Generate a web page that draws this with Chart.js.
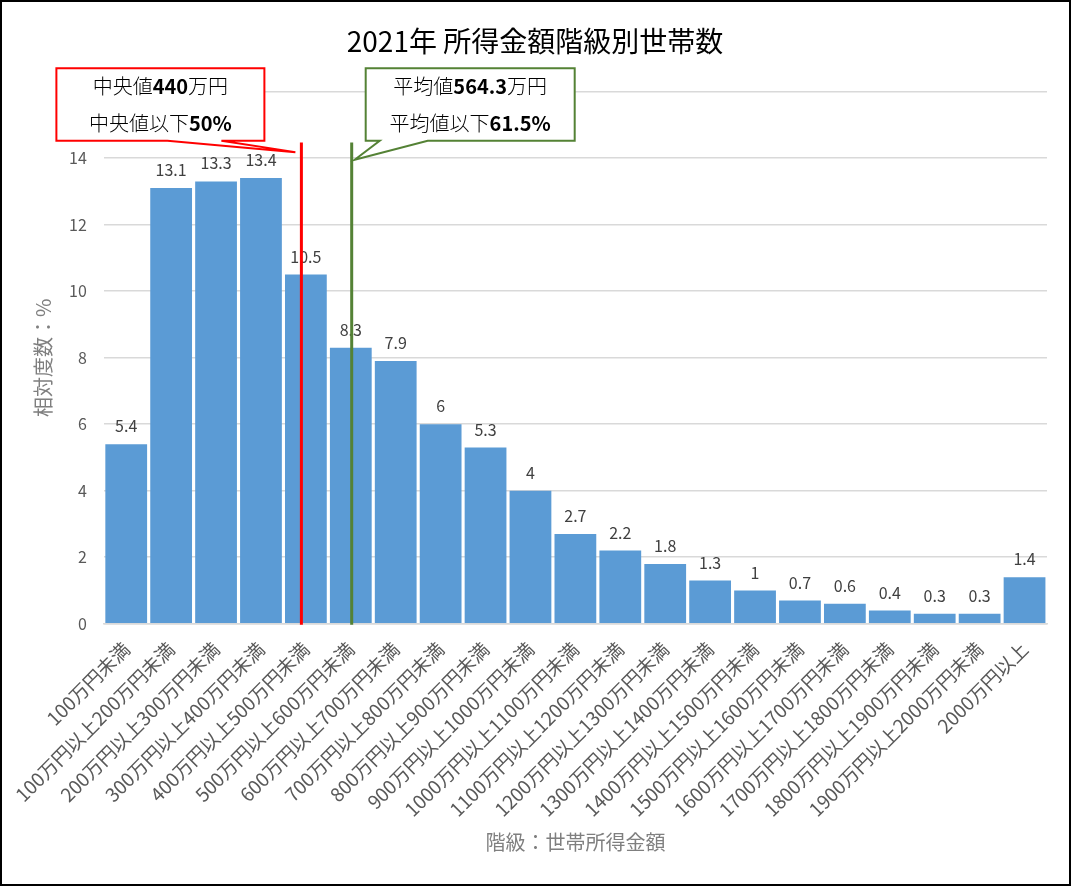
<!DOCTYPE html>
<html>
<head>
<meta charset="utf-8">
<script src="https://cdn.jsdelivr.net/npm/chart.js@4.4.1/dist/chart.umd.min.js"></script>
<style>
html,body{margin:0;padding:0;background:#fff;}
canvas{display:block;}
</style>
</head>
<body>
<canvas id="c" width="1071" height="886"></canvas>
<script>
// ---- data ----
const chartTitle = '2021年 所得金額階級別世帯数';
const categories = [
  '100万円未満','100万円以上200万円未満','200万円以上300万円未満','300万円以上400万円未満',
  '400万円以上500万円未満','500万円以上600万円未満','600万円以上700万円未満','700万円以上800万円未満',
  '800万円以上900万円未満','900万円以上1000万円未満','1000万円以上1100万円未満','1100万円以上1200万円未満',
  '1200万円以上1300万円未満','1300万円以上1400万円未満','1400万円以上1500万円未満','1500万円以上1600万円未満',
  '1600万円以上1700万円未満','1700万円以上1800万円未満','1800万円以上1900万円未満','1900万円以上2000万円未満',
  '2000万円以上'
];
const shares = [5.4,13.1,13.3,13.4,10.5,8.3,7.9,6,5.3,4,2.7,2.2,1.8,1.3,1,0.7,0.6,0.4,0.3,0.3,1.4];
const yTicks = [0,2,4,6,8,10,12,14,16];
const xAxisTitle = '階級：世帯所得金額';
const yAxisTitle = '相対度数：%';
// marker lines: position on the category axis and callout texts
const markerPositions = [3.9, 5.02];
const markerTexts = [['中央値440万円','中央値以下50%'], ['平均値564.3万円','平均値以下61.5%']];
const markerColors = ['#FF0000', '#548235'];

const FONT = '"Noto Sans CJK JP", "Noto Sans", sans-serif';

function drawMixed(ctx, text, cx, cy, size, color) {
  const runs = text.match(/[0-9.%]+|[^0-9.%]+/g);
  const fontN = '300 ' + size + 'px ' + FONT;
  const fontB = 'bold ' + size + 'px ' + FONT;
  let total = 0;
  const widths = runs.map(r => {
    ctx.font = /[0-9.%]/.test(r[0]) ? fontB : fontN;
    const w = ctx.measureText(r).width; total += w; return w;
  });
  let x = cx - total / 2;
  ctx.fillStyle = color;
  ctx.textBaseline = 'middle';
  ctx.textAlign = 'left';
  runs.forEach((r, i) => {
    ctx.font = /[0-9.%]/.test(r[0]) ? fontB : fontN;
    ctx.fillText(r, x, cy);
    x += widths[i];
  });
}

const overlay = {
  id: 'overlay',
  afterDatasetsDraw(chart) {
    const ctx = chart.ctx;
    const meta = chart.getDatasetMeta(0);
    const xs = chart.scales.x, ys = chart.scales.y;
    // value labels
    ctx.save();
    ctx.font = '16px ' + FONT;
    ctx.fillStyle = '#404040';
    ctx.textAlign = 'center';
    ctx.textBaseline = 'middle';
    meta.data.forEach((bar, i) => {
      ctx.fillText(String(shares[i]), bar.x, bar.y - 18);
    });
    ctx.restore();
    // marker lines
    const lineTop = ys.getPixelForValue(14.47);
    const base = ys.getPixelForValue(0);
    markerPositions.forEach((p, i) => {
      const x = xs.getPixelForValue(p);
      ctx.save();
      ctx.strokeStyle = markerColors[i];
      ctx.lineWidth = 3;
      ctx.beginPath();
      ctx.moveTo(x, lineTop);
      ctx.lineTo(x, base + 1);
      ctx.stroke();
      ctx.restore();
    });
  },
  afterDraw(chart) {
    const ctx = chart.ctx;
    const xs = chart.scales.x, ys = chart.scales.y;
    const boxTop = ys.getPixelForValue(16.7);
    const boxBot = ys.getPixelForValue(14.52);
    const boxes = [];
    const x0 = xs.getPixelForValue(markerPositions[0]);
    boxes.push({l: x0 - 245, r: x0 - 37, tip: [x0 - 6, ys.getPixelForValue(14.18)], b1: x0 - 134, b2: x0 - 80});
    const x1 = xs.getPixelForValue(markerPositions[1]);
    boxes.push({l: x1 + 14, r: x1 + 223, tip: [x1 + 3, ys.getPixelForValue(13.95)], b1: x1 + 28, b2: x1 + 76});
    boxes.forEach((bx, i) => {
      ctx.save();
      ctx.fillStyle = '#fff';
      ctx.strokeStyle = markerColors[i];
      ctx.lineWidth = 2;
      ctx.lineJoin = 'miter';
      ctx.beginPath();
      ctx.moveTo(bx.l, boxTop);
      ctx.lineTo(bx.r, boxTop);
      ctx.lineTo(bx.r, boxBot);
      ctx.lineTo(bx.b2, boxBot);
      ctx.lineTo(bx.tip[0], bx.tip[1]);
      ctx.lineTo(bx.b1, boxBot);
      ctx.lineTo(bx.l, boxBot);
      ctx.closePath();
      ctx.fill();
      ctx.stroke();
      ctx.restore();
      const cx = (bx.l + bx.r) / 2;
      const h = boxBot - boxTop;
      drawMixed(ctx, markerTexts[i][0], cx, boxTop + h * 0.25, 20, '#000');
      drawMixed(ctx, markerTexts[i][1], cx, boxTop + h * 0.76, 20, '#000');
    });
    ctx.save();
    ctx.strokeStyle = '#000';
    ctx.lineWidth = 2;
    ctx.strokeRect(1, 1, chart.width - 2, chart.height - 2);
    ctx.restore();
  }
};

new Chart(document.getElementById('c'), {
  type: 'bar',
  data: {
    labels: categories,
    datasets: [{
      data: shares,
      backgroundColor: '#5B9BD5',
      barPercentage: 0.93,
      categoryPercentage: 1.0
    }]
  },
  options: {
    responsive: false,
    animation: false,
    devicePixelRatio: 1,
    layout: {padding: {left: 23, right: 24, top: 0, bottom: 25}},
    plugins: {
      legend: {display: false},
      tooltip: {enabled: false},
      title: {
        display: true,
        text: chartTitle,
        color: '#000',
        font: {family: FONT, size: 28, weight: 'normal'},
        padding: {top: 25, bottom: 33}
      }
    },
    scales: {
      x: {
        offset: true,
        grid: {display: false, drawTicks: false},
        border: {display: true, color: '#D9D9D9', width: 1.5},
        ticks: {
          autoSkip: false, minRotation: 45, maxRotation: 45,
          color: '#595959', font: {family: FONT, size: 19}, padding: 14
        },
        title: {
          display: true, text: xAxisTitle, color: '#7f7f7f',
          font: {family: FONT, size: 20}, padding: {top: -5, bottom: 7}
        }
      },
      y: {
        min: 0, max: 16,
        afterBuildTicks(scale) { scale.ticks = yTicks.map(v => ({value: v})); },
        grid: {color: '#D9D9D9', drawTicks: false, lineWidth: 1.5},
        border: {display: false},
        ticks: {color: '#595959', font: {family: FONT, size: 16}, padding: 17},
        title: {
          display: true, text: yAxisTitle, color: '#7f7f7f',
          font: {family: FONT, size: 20}, padding: {top: 8, bottom: -3}
        }
      }
    }
  },
  plugins: [overlay]
});
</script>
</body>
</html>
